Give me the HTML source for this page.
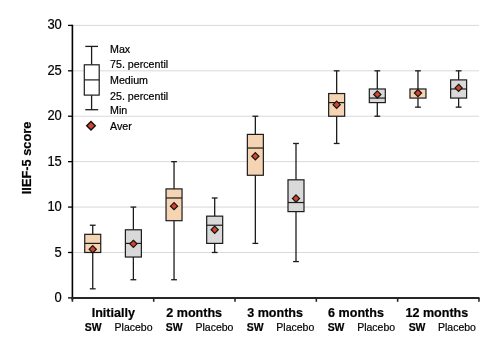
<!DOCTYPE html>
<html><head><meta charset="utf-8"><style>
html,body{margin:0;padding:0;background:#fff;}
body{width:499px;height:354px;overflow:hidden;}
svg{display:block;will-change:transform;}
text{font-family:"Liberation Sans",sans-serif;fill:#000;stroke:#000;stroke-width:0.2px;}
.yt{font-size:13.8px;}
.cat{font-size:12.55px;font-weight:bold;}
.sw{font-size:10.4px;font-weight:bold;}
.pl{font-size:10.5px;}
.lg{font-size:10.7px;}
.yl{font-size:12.8px;font-weight:bold;}
</style></head><body>
<svg width="499" height="354" viewBox="0 0 499 354">
<rect width="499" height="354" fill="#fff"/>
<line x1="73" y1="252.48" x2="479" y2="252.48" stroke="#D9D9D9" stroke-width="1"/>
<line x1="73" y1="207.07" x2="479" y2="207.07" stroke="#D9D9D9" stroke-width="1"/>
<line x1="73" y1="161.65" x2="479" y2="161.65" stroke="#D9D9D9" stroke-width="1"/>
<line x1="73" y1="116.23" x2="479" y2="116.23" stroke="#D9D9D9" stroke-width="1"/>
<line x1="73" y1="70.82" x2="479" y2="70.82" stroke="#D9D9D9" stroke-width="1"/>
<line x1="73" y1="25.40" x2="479" y2="25.40" stroke="#D9D9D9" stroke-width="1"/>
<line x1="68" y1="297.90" x2="72.4" y2="297.90" stroke="#000" stroke-width="1.3"/>
<text transform="translate(61.8 301.60) scale(0.94 1)" text-anchor="end" class="yt">0</text>
<line x1="68" y1="252.48" x2="72.4" y2="252.48" stroke="#000" stroke-width="1.3"/>
<text transform="translate(61.8 256.70) scale(0.94 1)" text-anchor="end" class="yt">5</text>
<line x1="68" y1="207.07" x2="72.4" y2="207.07" stroke="#000" stroke-width="1.3"/>
<text transform="translate(61.8 210.60) scale(0.94 1)" text-anchor="end" class="yt">10</text>
<line x1="68" y1="161.65" x2="72.4" y2="161.65" stroke="#000" stroke-width="1.3"/>
<text transform="translate(61.8 165.50) scale(0.94 1)" text-anchor="end" class="yt">15</text>
<line x1="68" y1="116.23" x2="72.4" y2="116.23" stroke="#000" stroke-width="1.3"/>
<text transform="translate(61.8 119.60) scale(0.94 1)" text-anchor="end" class="yt">20</text>
<line x1="68" y1="70.82" x2="72.4" y2="70.82" stroke="#000" stroke-width="1.3"/>
<text transform="translate(61.8 74.50) scale(0.94 1)" text-anchor="end" class="yt">25</text>
<line x1="68" y1="25.40" x2="72.4" y2="25.40" stroke="#000" stroke-width="1.3"/>
<text transform="translate(61.8 28.70) scale(0.94 1)" text-anchor="end" class="yt">30</text>
<line x1="72.4" y1="24.80" x2="72.4" y2="300" stroke="#000" stroke-width="1.6"/>
<line x1="72" y1="297.90" x2="479.5" y2="297.90" stroke="#262626" stroke-width="2"/>
<line x1="72.40" y1="297.90" x2="72.40" y2="301.8" stroke="#262626" stroke-width="1.6"/>
<line x1="153.71" y1="297.90" x2="153.71" y2="301.8" stroke="#262626" stroke-width="1.6"/>
<line x1="235.02" y1="297.90" x2="235.02" y2="301.8" stroke="#262626" stroke-width="1.6"/>
<line x1="316.33" y1="297.90" x2="316.33" y2="301.8" stroke="#262626" stroke-width="1.6"/>
<line x1="397.64" y1="297.90" x2="397.64" y2="301.8" stroke="#262626" stroke-width="1.6"/>
<line x1="478.95" y1="297.90" x2="478.95" y2="301.8" stroke="#262626" stroke-width="1.6"/>
<line x1="92.73" y1="225.23" x2="92.73" y2="234.32" stroke="#1c1c1c" stroke-width="1.3"/>
<line x1="92.73" y1="252.48" x2="92.73" y2="288.82" stroke="#1c1c1c" stroke-width="1.3"/>
<line x1="89.83" y1="225.23" x2="95.63" y2="225.23" stroke="#1c1c1c" stroke-width="1.3"/>
<line x1="89.83" y1="288.82" x2="95.63" y2="288.82" stroke="#1c1c1c" stroke-width="1.3"/>
<rect x="84.73" y="234.32" width="16.0" height="18.17" fill="#F5D4B4" stroke="#1c1c1c" stroke-width="1.2"/>
<line x1="84.73" y1="243.40" x2="100.73" y2="243.40" stroke="#1c1c1c" stroke-width="1.2"/>
<path d="M92.73 245.61L96.33 249.21L92.73 252.81L89.13 249.21Z" fill="#D4442D" stroke="#141414" stroke-width="1.2"/>
<line x1="133.38" y1="207.07" x2="133.38" y2="229.78" stroke="#1c1c1c" stroke-width="1.3"/>
<line x1="133.38" y1="257.03" x2="133.38" y2="279.73" stroke="#1c1c1c" stroke-width="1.3"/>
<line x1="130.48" y1="207.07" x2="136.28" y2="207.07" stroke="#1c1c1c" stroke-width="1.3"/>
<line x1="130.48" y1="279.73" x2="136.28" y2="279.73" stroke="#1c1c1c" stroke-width="1.3"/>
<rect x="125.38" y="229.78" width="16.0" height="27.25" fill="#D9D9D9" stroke="#1c1c1c" stroke-width="1.2"/>
<line x1="125.38" y1="243.40" x2="141.38" y2="243.40" stroke="#1c1c1c" stroke-width="1.2"/>
<path d="M133.38 240.25L136.98 243.85L133.38 247.45L129.78 243.85Z" fill="#D4442D" stroke="#141414" stroke-width="1.2"/>
<text x="113.30" y="317.2" text-anchor="middle" class="cat">Initially</text>
<text x="93.20" y="330.8" text-anchor="middle" class="sw">SW</text>
<text x="133.60" y="330.8" text-anchor="middle" class="pl">Placebo</text>
<line x1="174.04" y1="161.65" x2="174.04" y2="188.90" stroke="#1c1c1c" stroke-width="1.3"/>
<line x1="174.04" y1="220.69" x2="174.04" y2="279.73" stroke="#1c1c1c" stroke-width="1.3"/>
<line x1="171.14" y1="161.65" x2="176.94" y2="161.65" stroke="#1c1c1c" stroke-width="1.3"/>
<line x1="171.14" y1="279.73" x2="176.94" y2="279.73" stroke="#1c1c1c" stroke-width="1.3"/>
<rect x="166.04" y="188.90" width="16.0" height="31.79" fill="#F5D4B4" stroke="#1c1c1c" stroke-width="1.2"/>
<line x1="166.04" y1="197.98" x2="182.04" y2="197.98" stroke="#1c1c1c" stroke-width="1.2"/>
<path d="M174.04 202.56L177.64 206.16L174.04 209.76L170.44 206.16Z" fill="#D4442D" stroke="#141414" stroke-width="1.2"/>
<line x1="214.69" y1="197.98" x2="214.69" y2="216.15" stroke="#1c1c1c" stroke-width="1.3"/>
<line x1="214.69" y1="243.40" x2="214.69" y2="252.48" stroke="#1c1c1c" stroke-width="1.3"/>
<line x1="211.79" y1="197.98" x2="217.59" y2="197.98" stroke="#1c1c1c" stroke-width="1.3"/>
<line x1="211.79" y1="252.48" x2="217.59" y2="252.48" stroke="#1c1c1c" stroke-width="1.3"/>
<rect x="206.69" y="216.15" width="16.0" height="27.25" fill="#D9D9D9" stroke="#1c1c1c" stroke-width="1.2"/>
<line x1="206.69" y1="225.23" x2="222.69" y2="225.23" stroke="#1c1c1c" stroke-width="1.2"/>
<path d="M214.69 226.18L218.29 229.78L214.69 233.38L211.09 229.78Z" fill="#D4442D" stroke="#141414" stroke-width="1.2"/>
<text x="194.20" y="317.2" text-anchor="middle" class="cat">2 months</text>
<text x="174.15" y="330.8" text-anchor="middle" class="sw">SW</text>
<text x="214.45" y="330.8" text-anchor="middle" class="pl">Placebo</text>
<line x1="255.35" y1="116.23" x2="255.35" y2="134.40" stroke="#1c1c1c" stroke-width="1.3"/>
<line x1="255.35" y1="175.28" x2="255.35" y2="243.40" stroke="#1c1c1c" stroke-width="1.3"/>
<line x1="252.45" y1="116.23" x2="258.25" y2="116.23" stroke="#1c1c1c" stroke-width="1.3"/>
<line x1="252.45" y1="243.40" x2="258.25" y2="243.40" stroke="#1c1c1c" stroke-width="1.3"/>
<rect x="247.35" y="134.40" width="16.0" height="40.87" fill="#F5D4B4" stroke="#1c1c1c" stroke-width="1.2"/>
<line x1="247.35" y1="148.03" x2="263.35" y2="148.03" stroke="#1c1c1c" stroke-width="1.2"/>
<path d="M255.35 152.60L258.95 156.20L255.35 159.80L251.75 156.20Z" fill="#D4442D" stroke="#141414" stroke-width="1.2"/>
<line x1="296.00" y1="143.48" x2="296.00" y2="179.82" stroke="#1c1c1c" stroke-width="1.3"/>
<line x1="296.00" y1="211.61" x2="296.00" y2="261.57" stroke="#1c1c1c" stroke-width="1.3"/>
<line x1="293.10" y1="143.48" x2="298.90" y2="143.48" stroke="#1c1c1c" stroke-width="1.3"/>
<line x1="293.10" y1="261.57" x2="298.90" y2="261.57" stroke="#1c1c1c" stroke-width="1.3"/>
<rect x="288.00" y="179.82" width="16.0" height="31.79" fill="#D9D9D9" stroke="#1c1c1c" stroke-width="1.2"/>
<line x1="288.00" y1="202.53" x2="304.00" y2="202.53" stroke="#1c1c1c" stroke-width="1.2"/>
<path d="M296.00 194.93L299.60 198.53L296.00 202.13L292.40 198.53Z" fill="#D4442D" stroke="#141414" stroke-width="1.2"/>
<text x="275.10" y="317.2" text-anchor="middle" class="cat">3 months</text>
<text x="255.10" y="330.8" text-anchor="middle" class="sw">SW</text>
<text x="295.30" y="330.8" text-anchor="middle" class="pl">Placebo</text>
<line x1="336.66" y1="70.82" x2="336.66" y2="93.53" stroke="#1c1c1c" stroke-width="1.3"/>
<line x1="336.66" y1="116.23" x2="336.66" y2="143.48" stroke="#1c1c1c" stroke-width="1.3"/>
<line x1="333.76" y1="70.82" x2="339.56" y2="70.82" stroke="#1c1c1c" stroke-width="1.3"/>
<line x1="333.76" y1="143.48" x2="339.56" y2="143.48" stroke="#1c1c1c" stroke-width="1.3"/>
<rect x="328.66" y="93.53" width="16.0" height="22.71" fill="#F5D4B4" stroke="#1c1c1c" stroke-width="1.2"/>
<line x1="328.66" y1="102.61" x2="344.66" y2="102.61" stroke="#1c1c1c" stroke-width="1.2"/>
<path d="M336.66 101.10L340.26 104.70L336.66 108.30L333.06 104.70Z" fill="#D4442D" stroke="#141414" stroke-width="1.2"/>
<line x1="377.31" y1="70.82" x2="377.31" y2="88.98" stroke="#1c1c1c" stroke-width="1.3"/>
<line x1="377.31" y1="102.61" x2="377.31" y2="116.23" stroke="#1c1c1c" stroke-width="1.3"/>
<line x1="374.41" y1="70.82" x2="380.21" y2="70.82" stroke="#1c1c1c" stroke-width="1.3"/>
<line x1="374.41" y1="116.23" x2="380.21" y2="116.23" stroke="#1c1c1c" stroke-width="1.3"/>
<rect x="369.31" y="88.98" width="16.0" height="13.62" fill="#D9D9D9" stroke="#1c1c1c" stroke-width="1.2"/>
<line x1="369.31" y1="98.07" x2="385.31" y2="98.07" stroke="#1c1c1c" stroke-width="1.2"/>
<path d="M377.31 90.83L380.91 94.43L377.31 98.03L373.71 94.43Z" fill="#D4442D" stroke="#141414" stroke-width="1.2"/>
<text x="356.00" y="317.2" text-anchor="middle" class="cat">6 months</text>
<text x="336.05" y="330.8" text-anchor="middle" class="sw">SW</text>
<text x="376.15" y="330.8" text-anchor="middle" class="pl">Placebo</text>
<line x1="417.97" y1="70.82" x2="417.97" y2="88.98" stroke="#1c1c1c" stroke-width="1.3"/>
<line x1="417.97" y1="98.07" x2="417.97" y2="107.15" stroke="#1c1c1c" stroke-width="1.3"/>
<line x1="415.07" y1="70.82" x2="420.87" y2="70.82" stroke="#1c1c1c" stroke-width="1.3"/>
<line x1="415.07" y1="107.15" x2="420.87" y2="107.15" stroke="#1c1c1c" stroke-width="1.3"/>
<rect x="409.97" y="88.98" width="16.0" height="9.08" fill="#F5D4B4" stroke="#1c1c1c" stroke-width="1.2"/>
<path d="M417.97 89.47L421.57 93.07L417.97 96.67L414.37 93.07Z" fill="#D4442D" stroke="#141414" stroke-width="1.2"/>
<line x1="458.62" y1="70.82" x2="458.62" y2="79.90" stroke="#1c1c1c" stroke-width="1.3"/>
<line x1="458.62" y1="98.07" x2="458.62" y2="107.15" stroke="#1c1c1c" stroke-width="1.3"/>
<line x1="455.72" y1="70.82" x2="461.52" y2="70.82" stroke="#1c1c1c" stroke-width="1.3"/>
<line x1="455.72" y1="107.15" x2="461.52" y2="107.15" stroke="#1c1c1c" stroke-width="1.3"/>
<rect x="450.62" y="79.90" width="16.0" height="18.17" fill="#D9D9D9" stroke="#1c1c1c" stroke-width="1.2"/>
<line x1="450.62" y1="88.98" x2="466.62" y2="88.98" stroke="#1c1c1c" stroke-width="1.2"/>
<path d="M458.62 84.29L462.22 87.89L458.62 91.49L455.02 87.89Z" fill="#D4442D" stroke="#141414" stroke-width="1.2"/>
<text x="436.90" y="317.2" text-anchor="middle" class="cat">12 months</text>
<text x="417.00" y="330.8" text-anchor="middle" class="sw">SW</text>
<text x="457.00" y="330.8" text-anchor="middle" class="pl">Placebo</text>
<line x1="91.6" y1="46.4" x2="91.6" y2="64.8" stroke="#1c1c1c" stroke-width="1.3"/>
<line x1="91.6" y1="95.1" x2="91.6" y2="109.7" stroke="#1c1c1c" stroke-width="1.3"/>
<line x1="85.3" y1="46.4" x2="98" y2="46.4" stroke="#1c1c1c" stroke-width="1.3"/>
<line x1="85.3" y1="109.7" x2="98.2" y2="109.7" stroke="#1c1c1c" stroke-width="1.3"/>
<rect x="84.3" y="64.8" width="14.9" height="30.3" fill="#fff" stroke="#1c1c1c" stroke-width="1.2"/>
<line x1="84.3" y1="79.9" x2="99.2" y2="79.9" stroke="#1c1c1c" stroke-width="1.2"/>
<path d="M91 121.6L95.3 125.8L91 130.0L86.7 125.8Z" fill="#D4442D" stroke="#111" stroke-width="1.4"/>
<text x="110" y="52.8" class="lg">Max</text>
<text x="110" y="67.9" class="lg">75. percentil</text>
<text x="110" y="83.9" class="lg">Medium</text>
<text x="110" y="99.5" class="lg">25. percentil</text>
<text x="110" y="113.6" class="lg">Min</text>
<text x="110" y="129.8" class="lg">Aver</text>
<text transform="translate(30.7 194.2) rotate(-90)" class="yl">IIEF-5 score</text>
</svg>
</body></html>
